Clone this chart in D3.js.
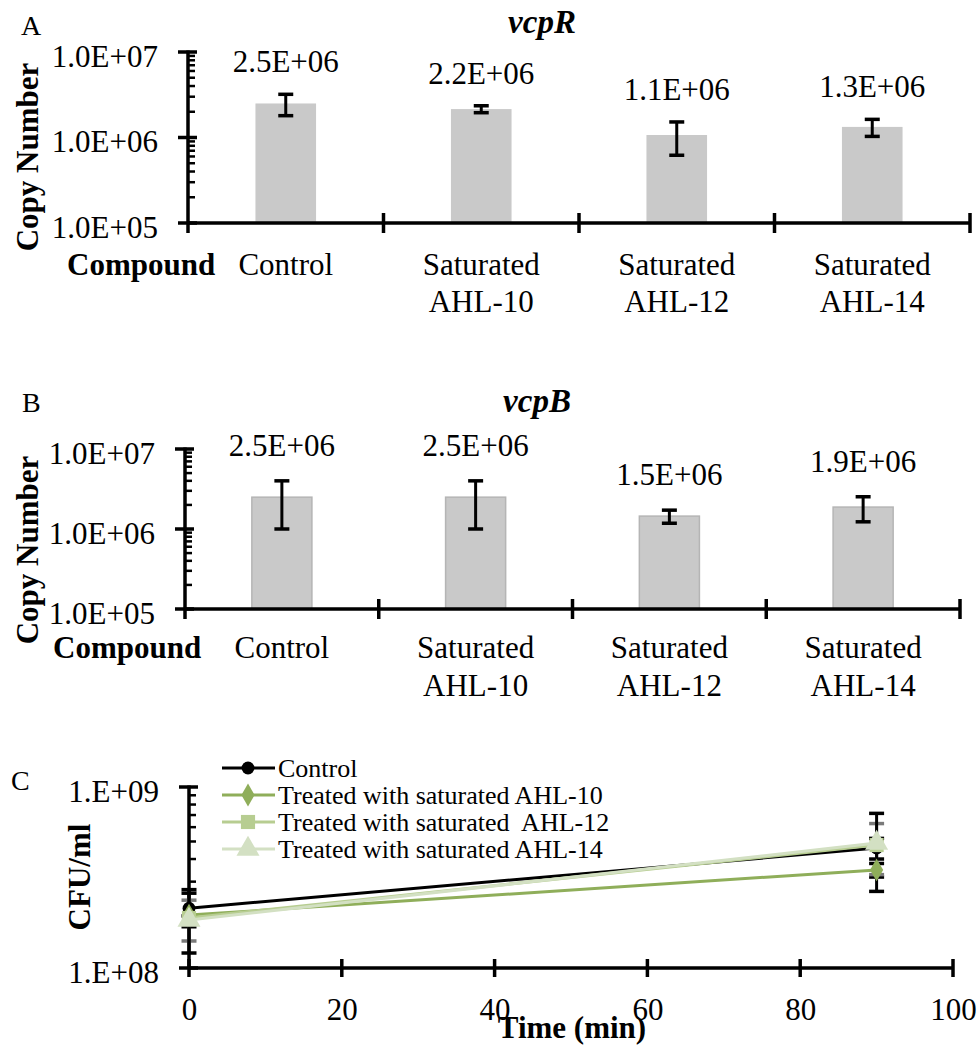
<!DOCTYPE html>
<html>
<head>
<meta charset="utf-8">
<script src="https://cdn.jsdelivr.net/npm/d3@7"></script>
<style>
  body { margin: 0; background: #fff; }
  text { font-family: "Liberation Serif", "Times New Roman", serif; fill: #000; }
  .bold { font-weight: bold; }
</style>
</head>
<body>
<div id="chart"></div>
<script>
// categories and values
var categories = ["Control", "Saturated AHL-10", "Saturated AHL-12", "Saturated AHL-14"];
var categoryLines = [["Control"], ["Saturated", "AHL-10"], ["Saturated", "AHL-12"], ["Saturated", "AHL-14"]];

var vcpR = [2.5e6, 2.15e6, 1.07e6, 1.33e6];
var vcpRErr = [0.7e6, 0.2e6, 0.45e6, 0.3e6];
var vcpRLabels = ["2.5E+06", "2.2E+06", "1.1E+06", "1.3E+06"];

var vcpB = [2.5e6, 2.5e6, 1.45e6, 1.88e6];
var vcpBErr = [1.5e6, 1.5e6, 0.27e6, 0.65e6];
var vcpBLabels = ["2.5E+06", "2.5E+06", "1.5E+06", "1.9E+06"];

var barTicks = [1e5, 1e6, 1e7];
var barTickLabels = ["1.0E+05", "1.0E+06", "1.0E+07"];

// growth curve
var times = [0, 90];
var seriesNames = ["Control", "Treated with saturated AHL-10", "Treated with saturated  AHL-12", "Treated with saturated AHL-14"];
var controlCfu = [2.14e8, 4.6e8];
var ahl10Cfu = [1.96e8, 3.48e8];
var ahl12Cfu = [1.89e8, 4.78e8];
var ahl14Cfu = [1.84e8, 4.9e8];
var controlErr = [0.45e8, 0.6e8];
var ahl10Err = [0.75e8, 0.3e8];
var ahl12Err = [0.48e8, 1.5e8];
var ahl14Err = [0.1e8, 2.25e8];
var timeTicks = [0, 20, 40, 60, 80, 100];
var cfuTicks = [1e8, 1e9];
var cfuTickLabels = ["1.E+08", "1.E+09"];

var svg = d3.select("#chart").append("svg")
    .attr("width", 979)
    .attr("height", 1051);

function minorTicks(lo, hi) {
    var out = [];
    for (var p = lo; p < hi; p *= 10) {
        for (var k = 2; k <= 9; k++) out.push(k * p);
    }
    return out;
}

// log y axis with crossing major ticks and inside minor ticks
function drawLogAxis(g, y, x0, ticks, labels, domain) {
    var axis = d3.axisLeft(y)
        .tickValues(ticks)
        .tickSize(0)
        .tickPadding(30)
        .tickFormat(function(d, i) { return labels[i]; });
    var ag = g.append("g")
        .attr("transform", `translate(${x0},0)`)
        .call(axis);
    ag.select(".domain").remove();
    ag.selectAll("text")
        .attr("font-size", 31)
        .attr("dy", null)
        .attr("y", 14)
        .attr("font-family", "Liberation Serif");

    g.append("line")
        .attr("x1", x0).attr("x2", x0)
        .attr("y1", y(domain[1]) - 1.5).attr("y2", y(domain[0]))
        .attr("stroke", "#000").attr("stroke-width", 3.5);
    g.selectAll(".major").data(ticks).enter().append("line")
        .attr("x1", x0 - 10).attr("x2", x0 + 9)
        .attr("y1", d => y(d)).attr("y2", d => y(d))
        .attr("stroke", "#000").attr("stroke-width", 3.5);
    g.selectAll(".minor").data(minorTicks(domain[0], domain[1])).enter().append("line")
        .attr("x1", x0).attr("x2", x0 + 7)
        .attr("y1", d => y(d)).attr("y2", d => y(d))
        .attr("stroke", "#000").attr("stroke-width", 2.5);
}

function errorBar(g, x, yTop, yBot, color) {
    g.append("line")
        .attr("x1", x).attr("x2", x).attr("y1", yTop).attr("y2", yBot)
        .attr("stroke", color).attr("stroke-width", 3);
    [yTop, yBot].forEach(function(yy) {
        g.append("line")
            .attr("x1", x - 7.5).attr("x2", x + 7.5).attr("y1", yy).attr("y2", yy)
            .attr("stroke", color).attr("stroke-width", 3.5);
    });
}

function barPanel(opt) {
    var g = svg.append("g");
    var x = d3.scaleBand().domain(categories).range([opt.left, opt.right]).padding(0);
    var y = d3.scaleLog().domain([1e5, 1e7]).range([opt.bottom, opt.top]);
    var bw = x.bandwidth() * 0.31;

    g.selectAll("rect").data(opt.values).enter().append("rect")
        .attr("x", (d, i) => x(categories[i]) + x.bandwidth() / 2 - bw / 2)
        .attr("width", bw)
        .attr("y", d => y(d))
        .attr("height", d => y(1e5) - y(d))
        .attr("fill", "#c9c9c9")
        .attr("stroke", opt.barStroke)
        .attr("stroke-width", 1.5);

    opt.values.forEach(function(v, i) {
        var cx = x(categories[i]) + x.bandwidth() / 2;
        errorBar(g, cx, y(v + opt.err[i]), y(v - opt.err[i]), "#000");
        g.append("text")
            .attr("x", cx)
            .attr("y", y(v + opt.err[i]) - opt.labelGap)
            .attr("text-anchor", "middle")
            .attr("font-size", 31)
            .text(opt.labels[i]);
    });

    drawLogAxis(g, y, opt.left, barTicks, barTickLabels, [1e5, 1e7]);

    // category axis
    g.append("line")
        .attr("x1", opt.left).attr("x2", opt.right)
        .attr("y1", opt.bottom).attr("y2", opt.bottom)
        .attr("stroke", "#000").attr("stroke-width", 3.5);
    var bounds = categories.map(c => x(c)).concat([opt.right]);
    g.selectAll(".ctick").data(bounds.slice(1)).enter().append("line")
        .attr("x1", d => d).attr("x2", d => d)
        .attr("y1", opt.bottom - 10).attr("y2", opt.bottom + 10)
        .attr("stroke", "#000").attr("stroke-width", 3.5);
    g.append("line")
        .attr("x1", opt.left).attr("x2", opt.left)
        .attr("y1", opt.bottom).attr("y2", opt.bottom + 10)
        .attr("stroke", "#000").attr("stroke-width", 3.5);

    categoryLines.forEach(function(lines, i) {
        var t = g.append("text")
            .attr("x", x(categories[i]) + x.bandwidth() / 2)
            .attr("y", opt.bottom + opt.catGap)
            .attr("text-anchor", "middle")
            .attr("font-size", 31);
        lines.forEach(function(l, j) {
            t.append("tspan")
                .attr("x", x(categories[i]) + x.bandwidth() / 2)
                .attr("dy", j === 0 ? 0 : opt.lineGap)
                .text(l);
        });
    });

    g.append("text")
        .attr("class", "bold")
        .attr("x", opt.compoundX)
        .attr("y", opt.bottom + opt.catGap)
        .attr("font-size", 31)
        .text("Compound");

    g.append("text")
        .attr("class", "bold")
        .attr("transform", `translate(${opt.yLabelX},${opt.yLabelY}) rotate(-90)`)
        .attr("text-anchor", "middle")
        .attr("font-size", 31)
        .text("Copy Number");

    g.append("text")
        .attr("x", opt.titleX).attr("y", opt.titleY)
        .attr("text-anchor", "middle")
        .attr("font-size", 33)
        .attr("font-weight", "bold")
        .attr("font-style", "italic")
        .text(opt.title);

    g.append("text")
        .attr("x", opt.letterX).attr("y", opt.letterY)
        .attr("font-size", 28)
        .text(opt.letter);
}

barPanel({
    left: 188, right: 970, top: 52, bottom: 223,
    values: vcpR, err: vcpRErr, labels: vcpRLabels, labelGap: 22,
    barStroke: "none", catGap: 52, lineGap: 37, compoundX: 67,
    yLabelX: 38, yLabelY: 157, title: "vcpR", titleX: 542, titleY: 33,
    letter: "A", letterX: 21, letterY: 35
});

barPanel({
    left: 185, right: 960, top: 449, bottom: 609,
    values: vcpB, err: vcpBErr, labels: vcpBLabels, labelGap: 25,
    barStroke: "#b5b5b5", catGap: 49, lineGap: 38, compoundX: 53,
    yLabelX: 38, yLabelY: 550, title: "vcpB", titleX: 537, titleY: 412,
    letter: "B", letterX: 22, letterY: 412
});

// panel C: growth curve
var gc = svg.append("g");
var xC = d3.scaleLinear().domain([0, 100]).range([189, 953]);
var yC = d3.scaleLog().domain([1e8, 1e9]).range([968, 787]);

var cfuSeries = [controlCfu, ahl10Cfu, ahl12Cfu, ahl14Cfu];
var cfuErrs = [controlErr, ahl10Err, ahl12Err, ahl14Err];
var lineColors = ["#000000", "#8fae5a", "#b7cd91", "#d3e0c3"];
var errColors = ["#000000", "#000000", "#7a7a7a", "#000000"];
var markerTypes = [d3.symbolCircle, d3.symbolDiamond, d3.symbolSquare, d3.symbolTriangle];
var markerSizes = [130, 150, 200, 230];

var line = d3.line()
    .x((d, i) => xC(times[i]))
    .y(d => yC(d));

cfuSeries.forEach(function(vals, s) {
    vals.forEach(function(v, i) {
        errorBar(gc, xC(times[i]), yC(v + cfuErrs[s][i]), yC(v - cfuErrs[s][i]), errColors[s]);
    });
});

drawLogAxis(gc, yC, 189, cfuTicks, cfuTickLabels, [1e8, 1e9]);

cfuSeries.forEach(function(vals, s) {
    gc.append("path")
        .datum(vals)
        .attr("d", line)
        .attr("fill", "none")
        .attr("stroke", lineColors[s])
        .attr("stroke-width", 3);
    gc.selectAll(".m" + s).data(vals).enter().append("path")
        .attr("d", d3.symbol().type(markerTypes[s]).size(markerSizes[s]))
        .attr("transform", (d, i) => `translate(${xC(times[i])},${yC(d)})`)
        .attr("fill", lineColors[s]);
});

// x axis
var xAxisC = d3.axisBottom(xC)
    .tickValues(timeTicks)
    .tickSize(0)
    .tickPadding(30);
var xg = gc.append("g")
    .attr("transform", "translate(0,968)")
    .call(xAxisC);
xg.select(".domain").remove();
xg.selectAll("text")
    .attr("font-size", 31)
    .attr("font-family", "Liberation Serif")
    .attr("dy", null)
    .attr("y", 52);
gc.append("line")
    .attr("x1", 189).attr("x2", 953).attr("y1", 968).attr("y2", 968)
    .attr("stroke", "#000").attr("stroke-width", 3.5);
gc.selectAll(".xt").data(timeTicks).enter().append("line")
    .attr("x1", d => xC(d)).attr("x2", d => xC(d))
    .attr("y1", 959).attr("y2", 977)
    .attr("stroke", "#000").attr("stroke-width", 3.5);

gc.append("text")
    .attr("class", "bold")
    .attr("x", 572).attr("y", 1038)
    .attr("text-anchor", "middle")
    .attr("font-size", 31)
    .text("Time (min)");

gc.append("text")
    .attr("class", "bold")
    .attr("transform", "translate(90,877) rotate(-90)")
    .attr("text-anchor", "middle")
    .attr("font-size", 31)
    .text("CFU/ml");

gc.append("text")
    .attr("x", 11).attr("y", 790)
    .attr("font-size", 28)
    .text("C");

// legend
var legendY = [768, 795, 822, 849];
seriesNames.forEach(function(name, s) {
    gc.append("line")
        .attr("x1", 222).attr("x2", 275)
        .attr("y1", legendY[s]).attr("y2", legendY[s])
        .attr("stroke", lineColors[s]).attr("stroke-width", 3);
    gc.append("path")
        .attr("d", d3.symbol().type(markerTypes[s]).size(markerSizes[s]))
        .attr("transform", `translate(248,${legendY[s]})`)
        .attr("fill", lineColors[s]);
    gc.append("text")
        .attr("x", 278).attr("y", legendY[s] + 9)
        .attr("font-size", 26)
        .style("white-space", "pre")
        .text(name);
});
</script>
</body>
</html>
